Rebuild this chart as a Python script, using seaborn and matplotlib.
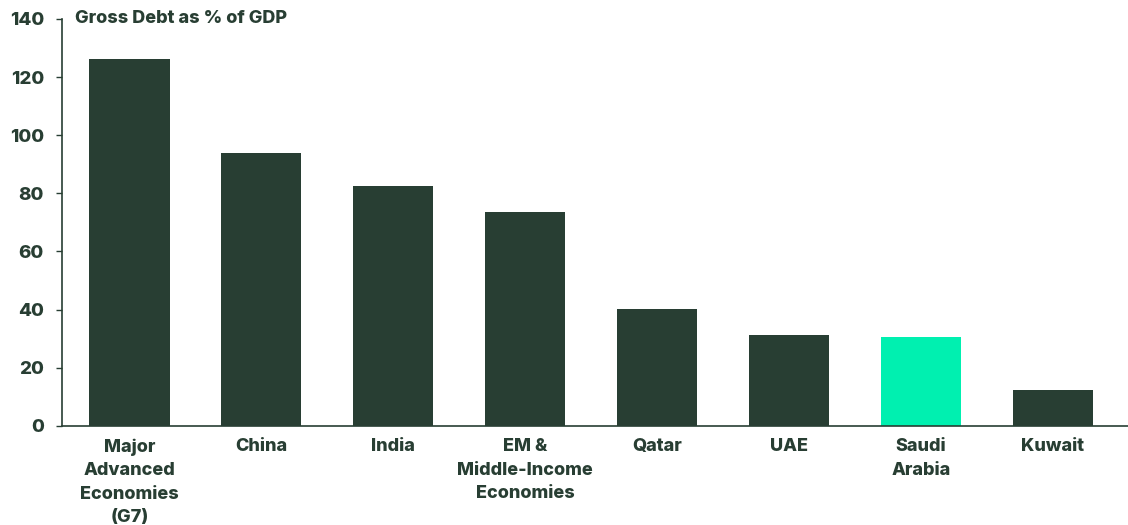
import matplotlib
matplotlib.use("Agg")
import matplotlib.pyplot as plt
import seaborn as sns
import pandas as pd

categories = ["Major\nAdvanced\nEconomies\n(G7)", "China", "India", "EM &\nMiddle-Income\nEconomies",
              "Qatar", "UAE", "Saudi\nArabia", "Kuwait"]
values = [126.2, 93.9, 82.6, 73.6, 40.2, 31.3, 30.6, 12.4]
highlight = "Saudi\nArabia"
title = "Gross Debt as % of GDP"

DARK = "#283E33"
BRIGHT = "#00F0B0"

sns.set_theme(style="white")
plt.rcParams['font.family'] = ['Inter', 'DejaVu Sans']

df = pd.DataFrame({"cat": categories, "val": values})
palette = {c: (BRIGHT if c == highlight else DARK) for c in categories}

fig = plt.figure(figsize=(11.28, 5.25), dpi=100)
ax = fig.add_axes([0.055, 0.189, 0.945, 0.775])
sns.barplot(data=df, x="cat", y="val", hue="cat", palette=palette, legend=False,
            width=0.61, saturation=1, linewidth=0, ax=ax)

ax.set_ylim(0, 140)
ax.set_xlim(-0.51, 7.57)
ax.set_yticks(range(0, 141, 20))
ax.set_xlabel("")
ax.set_ylabel("")
for s in ["top", "right"]:
    ax.spines[s].set_visible(False)
for s in ["left", "bottom"]:
    ax.spines[s].set_color(DARK)
    ax.spines[s].set_linewidth(1.2)
ax.tick_params(axis="y", left=True, length=4, width=1, color=DARK, labelsize=13.5,
               labelcolor=DARK, pad=9)
ax.tick_params(axis="x", bottom=False, labelsize=13, labelcolor=DARK, pad=3)
for lbl in ax.get_yticklabels():
    lbl.set_fontweight(800)
for lbl in ax.get_xticklabels():
    lbl.set_fontweight(800)
    lbl.set_linespacing(1.5)
    lbl.set_verticalalignment("top")

ax.text(-0.41, 140, title, fontsize=13, fontweight=800, color=DARK, va="center", ha="left")

fig.savefig("out.png", dpi=100)
